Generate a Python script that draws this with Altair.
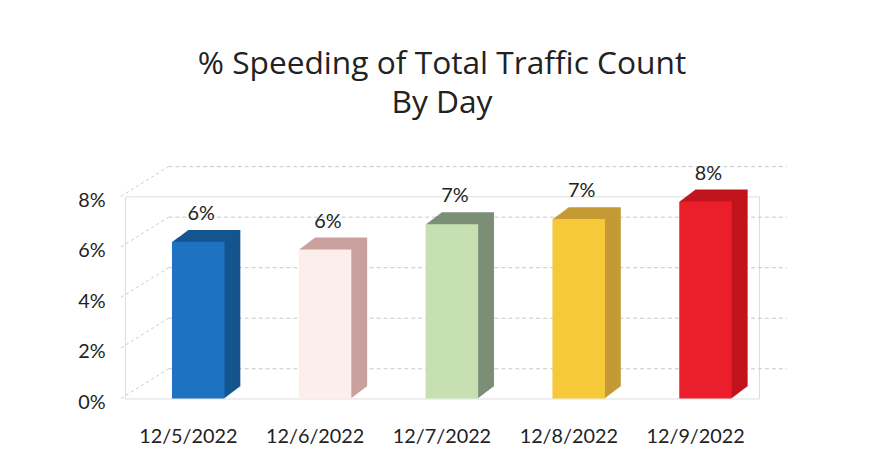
import altair as alt
import pandas as pd

dates = ["12/5/2022", "12/6/2022", "12/7/2022", "12/8/2022", "12/9/2022"]
values = [0.062, 0.059, 0.069, 0.071, 0.078]
front_colors = ["#1f72c2", "#fcefeb", "#c6e0b2", "#f6c93a", "#ea1f2b"]
side_colors = ["#15558f", "#c9a19d", "#7c8f77", "#c49a34", "#c2141d"]
ticks = [0.0, 0.02, 0.04, 0.06, 0.08]

df = pd.DataFrame({"date": dates, "value": values,
                   "front": front_colors, "side": side_colors})
tdf = pd.DataFrame({"t": ticks})

FONT = "Lato"
yscale = alt.Scale(domain=[0, 0.08], nice=False)
xenc = alt.X("date:N", sort=dates, title=None,
             axis=alt.Axis(labelAngle=0, labelFontSize=20, labelFont=FONT,
                           labelColor="#222222", labelPadding=28,
                           domain=False, ticks=False))
yaxis = alt.Axis(format=".0%", values=ticks, labelFontSize=20, labelFont=FONT,
                 labelColor="#222222", labelPadding=20, labelOffset=4,
                 domain=False, ticks=False, grid=False)

grid = alt.Chart(tdf).mark_rule(color="#c8c8c8", strokeDash=[4, 3],
                                strokeWidth=1, yOffset=-30).encode(
    y=alt.Y("t:Q", scale=yscale, axis=yaxis, title=None),
    x=alt.value(44), x2=alt.value(668))

diag = alt.Chart(tdf).mark_rule(color="#c8c8c8", strokeDash=[3, 3],
                                strokeWidth=1, y2Offset=-30).encode(
    y=alt.Y("t:Q", scale=yscale),
    y2="t:Q",
    x=alt.value(-4), x2=alt.value(44))

# extruded depth: several copies of each bar stepped up and to the right
depth_layers = []
for k in range(16, 0, -1):
    dy = -round(k * 0.75, 2)
    depth_layers.append(
        alt.Chart(df).mark_bar(width=53, xOffset=10 + k, yOffset=dy,
                               y2Offset=dy).encode(
            x=xenc,
            y=alt.Y("value:Q", scale=yscale),
            color=alt.Color("side:N", scale=None)))

front = alt.Chart(df).mark_bar(width=53, xOffset=10).encode(
    x=xenc,
    y=alt.Y("value:Q", scale=yscale),
    color=alt.Color("front:N", scale=None))

labels = alt.Chart(df).mark_text(font=FONT, fontSize=20, color="#222222",
                                 dx=13, dy=-18, baseline="bottom").encode(
    x=xenc,
    y=alt.Y("value:Q", scale=yscale),
    text=alt.Text("value:Q", format=".0%"))

chart = alt.layer(grid, diag, *depth_layers, front, labels).properties(
    width=640, height=204,
    autosize="none",
    padding={"left": 118, "top": 188, "right": 112, "bottom": 60},
    title=alt.TitleParams(["% Speeding of Total Traffic Count", "By Day"],
                          font="Open Sans", fontSize=32, fontWeight="normal",
                          color="#222222", lineHeight=40, offset=44,
                          anchor="middle"),
).configure_view(stroke=None).configure(background="white")

chart.save("out.html", embed_options={"renderer": "svg", "actions": False})
